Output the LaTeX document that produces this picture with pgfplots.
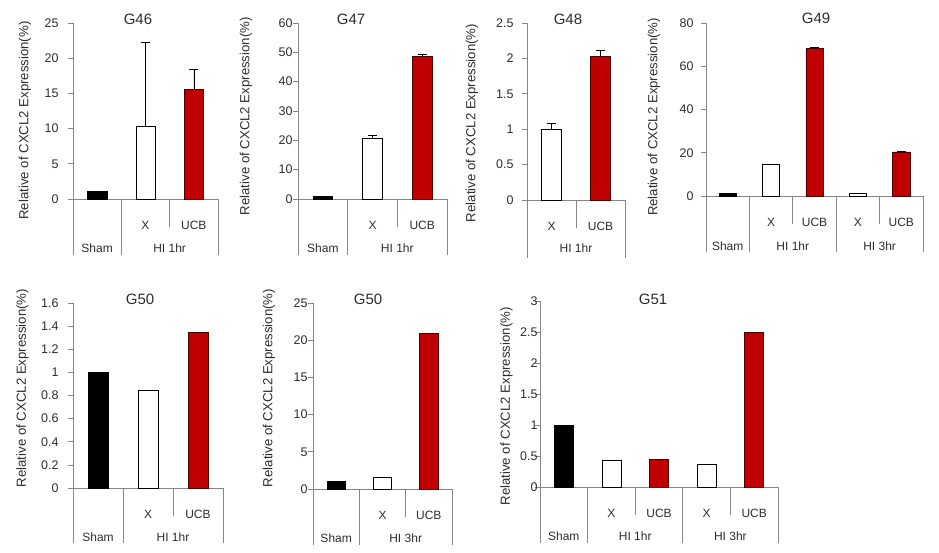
\documentclass[border=0pt]{standalone}
\usepackage{fontspec}
\setmainfont{Liberation Sans}
\usepackage{pgfplots}
\pgfplotsset{compat=1.18}
\definecolor{axgray}{RGB}{134,134,134}
\definecolor{txt}{RGB}{45,45,45}
\definecolor{ucbred}{RGB}{192,0,0}
\pgfplotsset{
  panel/.style={
    scale only axis, anchor=south west, clip=false,
    axis x line*=bottom, axis y line*=left,
    axis line style={draw=axgray, line width=0.7pt},
    ymin=0,
    tick align=outside, major tick length=5pt,
    ytick pos=left,
    ytick style={draw=axgray, line width=0.7pt},
    xtick style={draw=none},
    /pgf/number format/assume math mode=true,
    yticklabel style={font=\fontsize{12.5}{14}\selectfont, text=txt},
    xticklabel style={font=\fontsize{12}{14}\selectfont, text=txt, anchor=center, yshift=-21pt},
    ylabel={Relative of CXCL2 Expression(\%)},
    ylabel style={font=\fontsize{13.2}{15}\selectfont, text=txt, anchor=center},
    title style={font=\fontsize{15}{18}\selectfont, text=txt, anchor=center},
  },
  shambar/.style={ybar, bar width=0.4, bar shift=0pt, fill=black, draw=black, line width=0.6pt},
  whitebar/.style={ybar, bar width=0.4, bar shift=0pt, fill=white, draw=black, line width=0.6pt},
  ucbbar/.style={ybar, bar width=0.4, bar shift=0pt, fill=ucbred, draw=black!60!ucbred, line width=0.6pt},
  eb/.style={error bars/.cd, y dir=plus, y explicit,
    error bar style={black, line width=0.6pt},
    error mark=-,
    error mark options={black, rotate=90, mark size=4.5pt, line width=0.6pt}},
}
\newcommand{\vl}[2]{\draw[axgray, line width=0.7pt] (axis cs:#1,0) -- ([yshift=-#2pt]axis cs:#1,0);}
\newcommand{\gl}[3]{\node[font=\fontsize{12}{14}\selectfont, text=txt] at ([yshift=-#3pt]axis cs:#1,0) {#2};}
\begin{document}
\begin{tikzpicture}
\path[use as bounding box] (0,0) rectangle (939pt,552pt);

% G46
\begin{axis}[panel, at={(73pt,353pt)}, width=145pt, height=176pt,
  xmin=-0.5, xmax=2.5, ymax=25, ytick={0,5,10,15,20,25},
  xtick={0,1,2}, xticklabels={{},X,UCB},
  yticklabel style={xshift=-6pt},
  title={G46}, title style={at={(axis description cs:0.448,0.989)}},
  ylabel style={at={(axis description cs:-0.331,0.446)}}]
\addplot[shambar] coordinates {(0,1.13)};
\addplot[whitebar, eb] coordinates {(1,10.3) +- (0,11.9)};
\addplot[ucbbar, eb] coordinates {(2,15.6) +- (0,2.8)};
\vl{-0.5}{56}\vl{0.5}{56}\vl{1.5}{28}\vl{2.5}{56}
\gl{0}{Sham}{49}\gl{1.5}{HI 1hr}{49}
\end{axis}

% G47
\begin{axis}[panel, at={(298pt,353pt)}, width=149pt, height=176pt,
  xmin=-0.5, xmax=2.5, ymax=60, ytick={0,10,20,30,40,50,60},
  xtick={0,1,2}, xticklabels={{},X,UCB},
  yticklabel style={xshift=3pt},
  title={G47}, title style={at={(axis description cs:0.356,0.989)}},
  ylabel style={at={(axis description cs:-0.349,0.47)}}]
\addplot[shambar] coordinates {(0,1.0)};
\addplot[whitebar, eb] coordinates {(1,20.8) +- (0,1.0)};
\addplot[ucbbar, eb] coordinates {(2,48.6) +- (0,0.7)};
\vl{-0.5}{56}\vl{0.5}{56}\vl{1.5}{28}\vl{2.5}{56}
\gl{0}{Sham}{49}\gl{1.5}{HI 1hr}{49}
\end{axis}

% G48
\begin{axis}[panel, at={(527pt,352pt)}, width=98pt, height=177pt,
  xmin=-0.5, xmax=1.5, ymax=2.5, ytick={0,0.5,1,1.5,2,2.5},
  xtick={0,1}, xticklabels={X,UCB},
  yticklabel style={xshift=-5pt},
  title={G48}, title style={at={(axis description cs:0.418,0.989)}},
  ylabel style={at={(axis description cs:-0.561,0.435)}}]
\addplot[whitebar, eb] coordinates {(0,1.0) +- (0,0.09)};
\addplot[ucbbar, eb] coordinates {(1,2.03) +- (0,0.08)};
\vl{-0.5}{58}\vl{0.5}{28}\vl{1.5}{58}
\gl{0.5}{HI 1hr}{48}
\end{axis}

% G49
\begin{axis}[panel, at={(706pt,356pt)}, width=217pt, height=173pt,
  xmin=-0.5, xmax=4.5, ymax=80, ytick={0,20,40,60,80},
  xtick={0,1,2,3,4}, xticklabels={{},X,UCB,X,UCB},
  yticklabel style={xshift=-4pt},
  title={G49}, title style={at={(axis description cs:0.507,0.994)}},
  ylabel style={at={(axis description cs:-0.240,0.457)}}]
\addplot[shambar] coordinates {(0,1.2)};
\addplot[whitebar] coordinates {(1,14.6) (3,1.2)};
\addplot[ucbbar, eb] coordinates {(2,68.2) +- (0,0.4) (4,20.4) +- (0,0.5)};
\vl{-0.5}{56}\vl{0.5}{56}\vl{1.5}{28}\vl{2.5}{56}\vl{3.5}{28}\vl{4.5}{56}
\gl{0}{Sham}{50}\gl{1.5}{HI 1hr}{50}\gl{3.5}{HI 3hr}{50}
\end{axis}

% G50 (HI 1hr)
\begin{axis}[panel, at={(73pt,64pt)}, width=150pt, height=185pt,
  xmin=-0.5, xmax=2.5, ymax=1.6, ytick={0,0.2,0.4,0.6,0.8,1,1.2,1.4,1.6},
  xtick={0,1,2}, xticklabels={{},X,UCB},
  yticklabel style={xshift=-6pt},
  title={G50}, title style={at={(axis description cs:0.447,0.989)}},
  ylabel style={at={(axis description cs:-0.337,0.54)}}]
\addplot[shambar] coordinates {(0,1.0)};
\addplot[whitebar] coordinates {(1,0.845)};
\addplot[ucbbar] coordinates {(2,1.345)};
\vl{-0.5}{55}\vl{0.5}{55}\vl{1.5}{28}\vl{2.5}{55}
\gl{0}{Sham}{49}\gl{1.5}{HI 1hr}{49}
\end{axis}

% G50 (HI 3hr)
\begin{axis}[panel, at={(313pt,63pt)}, width=139pt, height=186pt,
  xmin=-0.5, xmax=2.5, ymax=25, ytick={0,5,10,15,20,25},
  xtick={0,1,2}, xticklabels={{},X,UCB},
  yticklabel style={xshift=3pt},
  title={G50}, title style={at={(axis description cs:0.396,0.989)}},
  ylabel style={at={(axis description cs:-0.317,0.543)}}]
\addplot[shambar] coordinates {(0,1.07)};
\addplot[whitebar] coordinates {(1,1.6)};
\addplot[ucbbar] coordinates {(2,20.9)};
\vl{-0.5}{56}\vl{0.5}{56}\vl{1.5}{28}\vl{2.5}{56}
\gl{0}{Sham}{49}\gl{1.5}{HI 3hr}{49}
\end{axis}

% G51
\begin{axis}[panel, at={(540pt,65pt)}, width=238pt, height=186pt,
  xmin=-0.5, xmax=4.5, ymax=3, ytick={0,0.5,1,1.5,2,2.5,3},
  xtick={0,1,2,3,4}, xticklabels={{},X,UCB,X,UCB},
  yticklabel style={xshift=6pt},
  title={G51}, title style={at={(axis description cs:0.475,0.978)}},
  ylabel style={at={(axis description cs:-0.141,0.433)}}]
\addplot[shambar] coordinates {(0,1.0)};
\addplot[whitebar] coordinates {(1,0.43) (3,0.37)};
\addplot[ucbbar] coordinates {(2,0.45) (4,2.50)};
\vl{-0.5}{56}\vl{0.5}{56}\vl{1.5}{28}\vl{2.5}{56}\vl{3.5}{28}\vl{4.5}{56}
\gl{0}{Sham}{49}\gl{1.5}{HI 1hr}{49}\gl{3.5}{HI 3hr}{49}
\end{axis}
\end{tikzpicture}
\end{document}
